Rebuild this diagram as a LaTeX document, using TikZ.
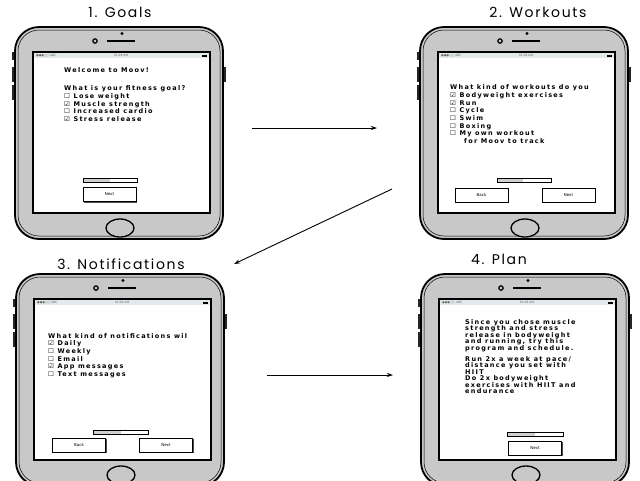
\documentclass[tikz,border=0pt]{standalone}
\usepackage{fontspec}
\setmainfont{DejaVu Sans}
\newfontfamily\titlefont[LetterSpace=12]{Poppins}
\newfontfamily\scrfont[LetterSpace=20]{DejaVu Sans}
\newfontfamily\symfont{DejaVu Sans}
\usetikzlibrary{arrows.meta,shadows}
\definecolor{bodygray}{HTML}{C8C8C8}
\definecolor{statusgray}{HTML}{E4E9EC}
\definecolor{bargray}{HTML}{CFCFCF}
\newcommand{\cb}{{\symfont ☐}}
\newcommand{\ck}{{\symfont ☑}}
\tikzset{
  title/.style={font=\titlefont\fontsize{14}{16}\selectfont, inner sep=0},
  scrtext/.style={font=\scrfont\bfseries\fontsize{6.5}{7.7}\selectfont, align=left, anchor=north west, inner sep=0},
  plantext/.style={font=\scrfont\bfseries\fontsize{6.5}{6.5}\selectfont, align=left, anchor=north west, inner sep=0},
  status/.style={font=\fontsize{3}{3}\selectfont, inner sep=0, text=black!60},
  btn/.style={draw, line width=0.8, fill=white, minimum width=53, minimum height=14, inner sep=0,
    font=\fontsize{4}{4}\selectfont,
    drop shadow={shadow xshift=1.2pt, shadow yshift=-1.2pt, fill=black!70, opacity=1}},
  pbar/.style={line width=1, fill=white},
  flow/.style={-{Stealth[length=6pt,width=4pt]}, line width=0.9}
}
\newcommand{\drawphone}[3]{%
\begin{scope}[shift={(#1,#2)}]
  \fill[black!85] (-3,25) rectangle (1,33);
  \fill[black!85] (-3,40) rectangle (1,55);
  \fill[black!85] (-3,58) rectangle (1,73);
  \fill[black!85] (207,40) rectangle (211,55);
  \draw[line width=1.8, fill=bodygray, rounded corners=24] (0,0) rectangle (208,212);
  \draw[line width=0.5, rounded corners=21] (3,3) rectangle (205,209);
  \draw[line width=2.6, fill=white] (18,25) rectangle (195,186);
  \fill[statusgray] (19.3,26.3) rectangle (193.7,31);
  \node[status, anchor=west] (#3sig) at (21,28.6) {●●●○○ ABC};
  \node[status] (#3time) at (106,28.6) {01:08 AM};
  \fill (187,27.6) rectangle (191.5,29.8);
  \draw[line width=1.2] (80,14) circle (2.2);
  \draw[line width=2.4] (92,14) -- (120,14);
  \fill (107,6.5) circle (1.6);
  \draw[line width=1.3, fill=bodygray] (105,201) ellipse [x radius=14, y radius=9];
\end{scope}}
\begin{document}
\begin{tikzpicture}[x=1pt,y=-1pt]
\useasboundingbox (0,0) rectangle (640,480);
\clip (0,0) rectangle (640,480);
\fill[white] (0,0) rectangle (640,480);

% titles
\node[title] (t1) at (120,12) {1. Goals};
\node[title] (t2) at (538,12) {2. Workouts};
\node[title] (t3) at (121,264) {3. Notifications};
\node[title] (t4) at (499,259) {4. Plan};

% phones
\drawphone{15}{27}{pa}
\drawphone{420}{27}{pb}
\drawphone{16}{274}{pc}
\drawphone{421}{274}{pd}

% phone 1 content
\node[scrtext] (p1welcome) at (64,67.5) {Welcome to Moov!};
\node[scrtext] (p1q) at (64,85.5) {What is your fitness goal?\\
\cb\ Lose weight\\ \ck\ Muscle strength\\ \cb\ Increased cardio\\ \ck\ Stress release};
\draw[pbar] (83,178) rectangle (137,182.5);
\fill[bargray] (84,179) rectangle (110,181.5);
\node[btn] (p1next) at (109.5,194.5) {Next};

% phone 2 content
\node[scrtext] (p2q) at (450,84.5) {What kind of workouts do you\\
\ck\ Bodyweight exercises\\ \ck\ Run\\ \cb\ Cycle\\ \cb\ Swim\\ \cb\ Boxing\\
\cb\ My own workout\\ \hspace{14pt}for Moov to track};
\draw[pbar] (497,178) rectangle (551,182.5);
\fill[bargray] (498,179) rectangle (523,181.5);
\node[btn] (p2back) at (481.5,195) {Back};
\node[btn] (p2next) at (568.5,195) {Next};

% phone 3 content
\node[scrtext] (p3q) at (48,333) {What kind of notifications wil\\
\ck\ Daily\\ \cb\ Weekly\\ \cb\ Email\\ \ck\ App messages\\ \cb\ Text messages};
\draw[pbar] (93,430) rectangle (148,434.5);
\fill[bargray] (94,431) rectangle (121,433.5);
\node[btn] (p3back) at (79,445) {Back};
\node[btn] (p3next) at (166,445) {Next};

% phone 4 content
\node[plantext] (p4a) at (465,319) {Since you chose muscle\\ strength and stress\\
release in bodyweight\\ and running, try this\\ program and schedule.};
\node[plantext] (p4b) at (465,356) {Run 2x a week at pace/\\ distance you set with\\ HIIT\\
Do 2x bodyweight\\ exercises with HIIT and\\ endurance};
\draw[pbar] (507,432) rectangle (563,436.5);
\fill[bargray] (508,433) rectangle (535,435.5);
\node[btn] (p4next) at (535,448) {Next};

% connectors
\coordinate (a1s) at (252,128); \coordinate (a1e) at (377,128);
\coordinate (a2s) at (392,189); \coordinate (a2e) at (234,264);
\coordinate (a3s) at (267,375); \coordinate (a3e) at (393,375);
\draw[flow] (a1s) -- (a1e);
\draw[flow] (a2s) -- (a2e);
\draw[flow] (a3s) -- (a3e);
\end{tikzpicture}
\end{document}
